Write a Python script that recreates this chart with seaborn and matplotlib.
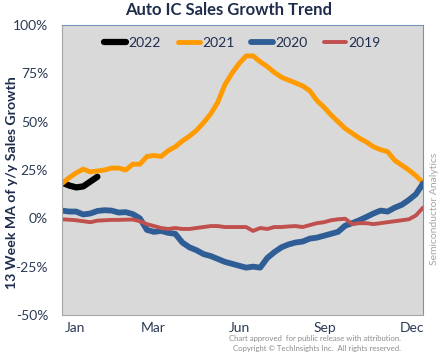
import numpy as np
import pandas as pd
import seaborn as sns
import matplotlib.pyplot as plt

# weekly index, 0 = first week of Jan
weeks = list(range(52))
month_ticks = [1.8, 12.9, 25.1, 37.1, 49.4]
month_labels = ['Jan', 'Mar', 'Jun', 'Sep', 'Dec']

g2022 = [18.5, 17, 16, 16.5, 19, 21.5]
g2021 = [18, 21, 23.5, 25.5, 24, 24.5, 25, 26, 26, 25, 28, 28, 32, 32.5, 32, 35, 37,
         40, 42.5, 45.5, 49.5, 54, 60, 69, 75, 80, 84, 84, 81, 78.5, 75.5, 73, 71.5,
         70, 68.5, 66, 61, 57.5, 53.5, 50, 46.5, 44, 41.5, 39.5, 37, 35.5, 34.5, 30,
         27.5, 25, 22, 18.5]
g2020 = [4, 3.5, 3.5, 2, 2.5, 3.8, 4.2, 4, 3, 3.2, 2.2, 0, -6, -7, -6.5, -7.5, -8,
         -12.5, -15, -16.5, -18.5, -19.5, -21, -22.5, -23.5, -24.5, -25.5, -25, -25.5,
         -20.5, -17.5, -15, -13.5, -12.5, -12, -10.5, -10, -9, -8, -7, -3.8, -2.5, -1,
         0.7, 2.5, 4, 3.5, 5.5, 7, 9.5, 12.5, 18]
g2019 = [-0.5, -0.7, -1, -1.5, -2, -1.2, -1, -0.8, -0.8, -0.7, -0.6, -1.5, -3, -4, -5,
         -5.5, -5, -5.5, -5.5, -5, -4.5, -4, -4, -4.5, -4.5, -4.5, -4.5, -6.5, -5, -5.5,
         -4.5, -4.5, -4.2, -4, -4.5, -3.5, -2.5, -2, -1, -0.5, -0.2, -3, -2.5, -2.5, -3,
         -2.5, -2, -1.5, -1, -0.5, 1.5, 5.5]

series = [('2022', g2022, 'black', 4.5),
          ('2021', g2021, '#FF9A00', 3.5),
          ('2020', g2020, '#2F5D95', 4.2),
          ('2019', g2019, '#C0504D', 2.8)]

sns.set_style('white')
plt.rcParams['font.family'] = ['Lato', 'DejaVu Sans']
plt.rcParams['lines.solid_capstyle'] = 'round'

navy = '#1F2D4D'
fig = plt.figure(figsize=(4.4, 3.52), dpi=100)
ax = fig.add_axes([62 / 440, 37 / 352, 361 / 440, 290 / 352])
ax.set_facecolor('#D9D9D9')

for year, vals, color, lw in series:
    df = pd.DataFrame({'week': weeks[:len(vals)], 'growth': vals})
    sns.lineplot(data=df, x='week', y='growth', color=color, linewidth=lw,
                 label=year, ax=ax)

ax.set_xlim(0, 51)
ax.set_ylim(-50, 100)
yt = list(range(-50, 101, 25))
ax.set_yticks(yt)
ax.set_yticklabels([f'{v}%' for v in yt])
ax.set_xticks(month_ticks)
ax.set_xticklabels(month_labels)
ax.tick_params(length=0, labelsize=10, colors='#2B3A55')
ax.tick_params(axis='y', pad=10)
ax.tick_params(axis='x', pad=5)
ax.set_xlabel('')
ax.set_ylabel('')

for s in ['left', 'bottom']:
    ax.spines[s].set_color('#A6A6A6')
for s in ['top', 'right']:
    ax.spines[s].set_color('#7393BD')

leg = ax.legend(ncol=4, frameon=False, loc='center', bbox_to_anchor=(0.5, 0.938),
                handlelength=1.6, handletextpad=0.15, columnspacing=1.2, fontsize=10)
for t in leg.get_texts():
    t.set_color(navy)

fig.text(229 / 440, 1 - 10 / 352, 'Auto IC Sales Growth Trend', ha='center', va='center',
         fontsize=12, fontweight='bold', color=navy)
fig.text(12 / 440, 1 - 183 / 352, '13 Week MA of y/y Sales Growth', rotation=90,
         ha='center', va='center', fontsize=10.2, fontweight='bold', color=navy)
fig.text(434 / 440, 1 - 209 / 352, 'Semiconductor Analytics', rotation=90,
         ha='center', va='center', fontsize=7.5, color='#A6A6A6')
fig.text(401 / 440, 1 - 338 / 352, 'Chart approved  for public release with attribution.',
         ha='right', va='center', fontsize=5.6, color='#8C8C8C')
fig.text(401 / 440, 1 - 348 / 352, 'Copyright \u00a9 TechInsights Inc.  All rights reserved.',
         ha='right', va='center', fontsize=5.6, color='#8C8C8C')

plt.savefig('out.png', dpi=100)
